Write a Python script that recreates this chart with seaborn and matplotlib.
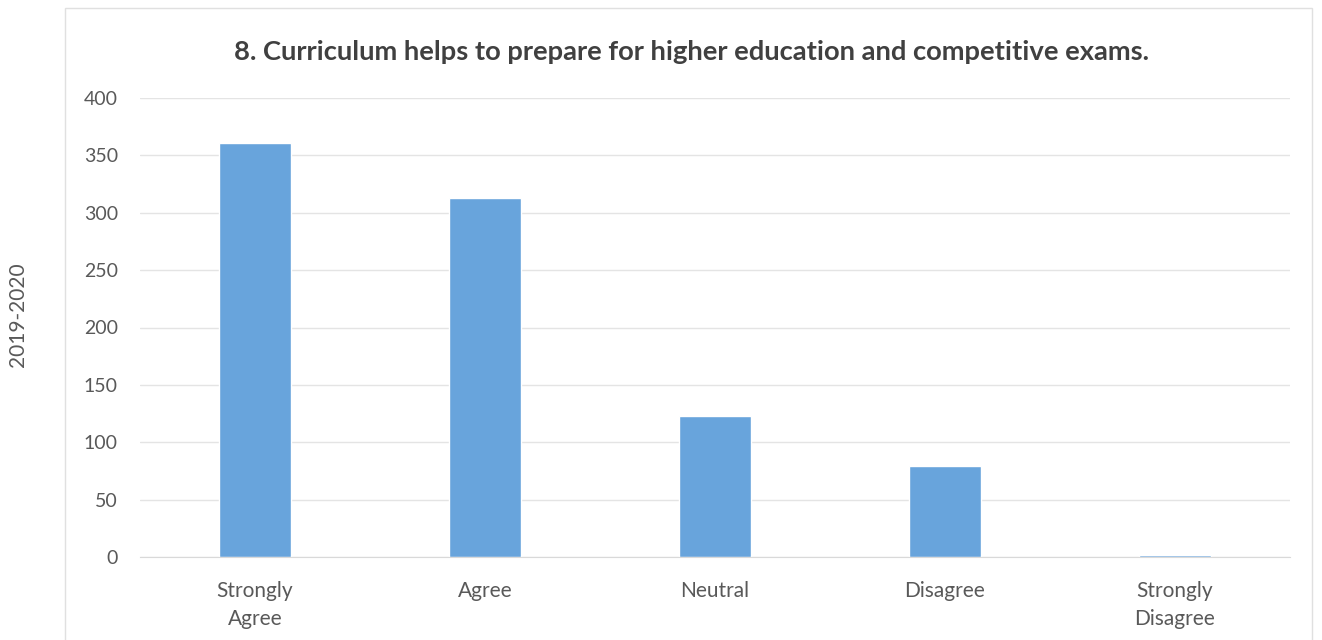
import matplotlib.pyplot as plt
import seaborn as sns
import pandas as pd
from matplotlib.patches import Rectangle

categories = ['Strongly\nAgree', 'Agree', 'Neutral', 'Disagree', 'Strongly\nDisagree']
responses = [361, 313, 123, 79, 2]
y_ticks = [0, 50, 100, 150, 200, 250, 300, 350, 400]

df = pd.DataFrame({'category': categories, 'count': responses})

sns.set_style('white')
plt.rcParams['font.family'] = ['Lato', 'DejaVu Sans']

fig = plt.figure(figsize=(13.22, 6.4), dpi=100)
ax = fig.add_axes([140 / 1322, 1 - 557 / 640, 1150 / 1322, 459 / 640])

sns.barplot(data=df, x='category', y='count', color='#68a4dc', width=0.31,
            saturation=1, ax=ax)

ax.set_ylim(0, 400)
ax.set_yticks(y_ticks)
ax.set_yticklabels([str(t) for t in y_ticks], color='#595959', fontsize=14)
for lbl in ax.get_xticklabels():
    lbl.set_linespacing(1.5)
ax.tick_params(axis='x', colors='#595959', labelsize=15, length=0, pad=17)
ax.tick_params(axis='y', length=0, pad=16)
ax.yaxis.grid(True, color='#e4e4e4', linewidth=1)
ax.set_axisbelow(True)
for s in ['top', 'right', 'left']:
    ax.spines[s].set_visible(False)
ax.spines['bottom'].set_color('#d9d9d9')
ax.set_xlabel('')
ax.set_ylabel('')

fig.text(692 / 1322, 1 - 52 / 640,
         '8. Curriculum helps to prepare for higher education and competitive exams.',
         ha='center', va='center', fontsize=19.7, fontweight='bold', color='#404040')
fig.text(18 / 1322, 1 - 315 / 640, '2019-2020', rotation=90, ha='center', va='center',
         fontsize=15, color='#595959')

fig.patches.append(Rectangle((65 / 1322, -0.01), 1247 / 1322, 1 - 8 / 640 + 0.01,
                             transform=fig.transFigure, fill=False,
                             edgecolor='#e0e0e0', linewidth=1))

fig.savefig('out.png', dpi=100)
